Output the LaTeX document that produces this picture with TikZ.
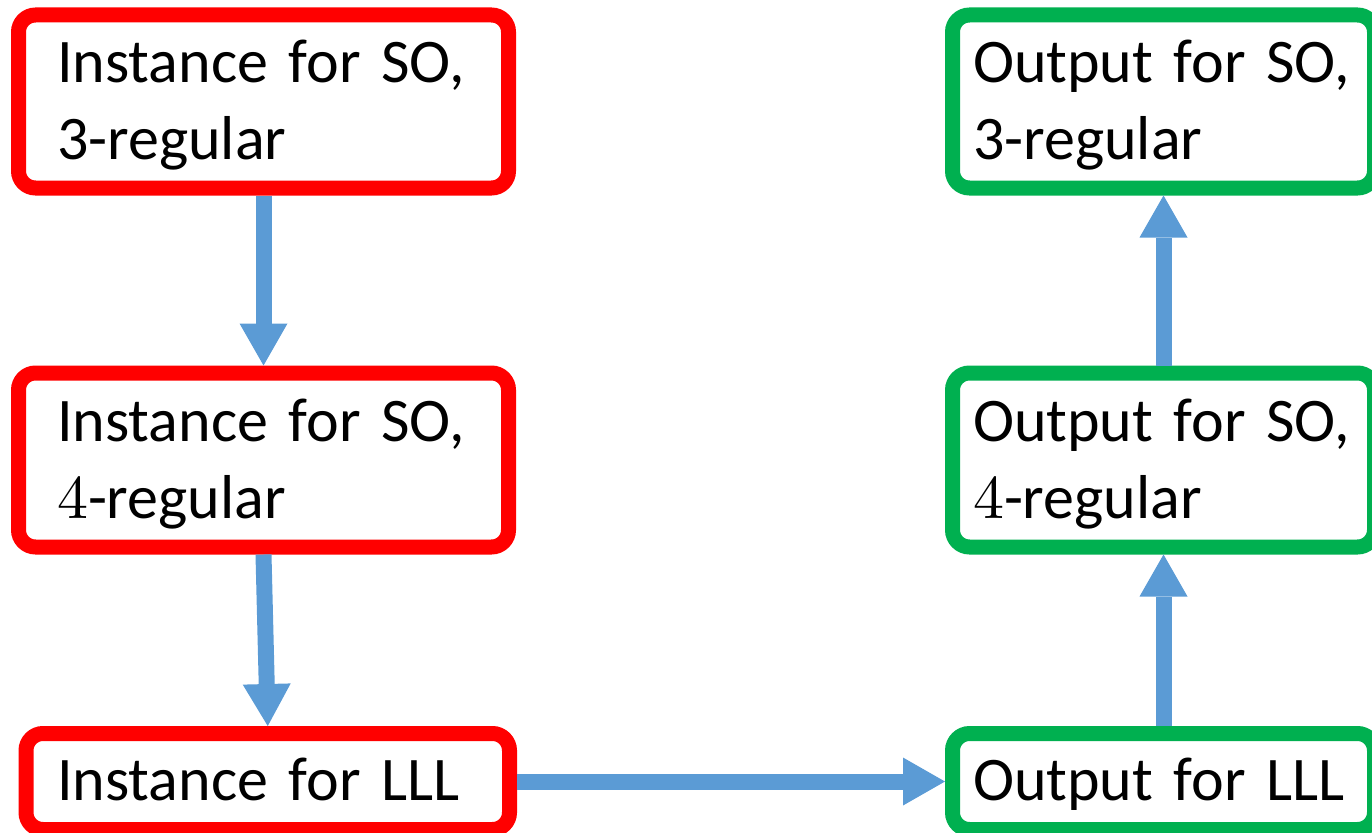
\documentclass[tikz,border=0pt]{standalone}
\usepackage[no-math]{fontspec}
\setmainfont[WordSpace=0.8]{Carlito}
\newfontfamily\digitfont[Extension=.otf]{lmroman10-regular}
\usetikzlibrary{arrows.meta}
\definecolor{boxred}{HTML}{FF0000}
\definecolor{boxgreen}{HTML}{00B050}
\definecolor{flowblue}{HTML}{5B9BD5}
% struts that fix where the lines of a box label sit
\newcommand\twolines[2]{\rule{0pt}{55pt}#1\\#2\rule[-15pt]{0pt}{15pt}}
\newcommand\oneline[1]{\rule[-15pt]{0pt}{67pt}#1}
\begin{document}
\begin{tikzpicture}[x=1pt,y=-1pt,
  stepbox/.style={draw, line width=15pt, rounded corners=17pt, fill=white,
    align=left, inner ysep=0pt, font=\fontsize{62}{77}\selectfont},
  inbox/.style={stepbox, draw=boxred},
  outbox/.style={stepbox, draw=boxgreen},
  flow/.style={draw=flowblue, line width=16pt,
    -{Triangle[width=48pt,length=42pt,line width=0pt]}}]
\useasboundingbox (0,0) rectangle (1372,832);

% instances (left column)
\node[inbox, text width=413pt, inner xsep=38.5pt, minimum height=173pt]
  (in3) at (263.5,101.5) {\twolines{Instance for SO,}{3-regular}};
\node[inbox, text width=413pt, inner xsep=38.5pt, minimum height=174pt]
  (in4) at (263.5,460) {\twolines{Instance for SO,}{{\digitfont 4}-regular}};
\node[inbox, text width=421.5pt, inner xsep=31pt, minimum height=96pt]
  (inlll) at (267.75,781.5) {\oneline{Instance for LLL}};

% outputs (right column)
\node[outbox, text width=381pt, inner xsep=20.5pt, minimum height=173pt]
  (out3) at (1163.5,101.5) {\twolines{Output for SO,}{3-regular}};
\node[outbox, text width=381pt, inner xsep=20.5pt, minimum height=174pt]
  (out4) at (1163.5,460) {\twolines{Output for SO,}{{\digitfont 4}-regular}};
\node[outbox, text width=381pt, inner xsep=20.5pt, minimum height=96pt]
  (outlll) at (1163.5,781.5) {\oneline{Output for LLL}};

% reductions
\draw[flow] (in3.south) -- (in4.north);
\draw[flow] (in4.south) -- (inlll.north);
\draw[flow] (inlll.east) -- (outlll.west);
\draw[flow] (outlll.north) -- (out4.south);
\draw[flow] (out4.north) -- (out3.south);
\end{tikzpicture}
\end{document}
